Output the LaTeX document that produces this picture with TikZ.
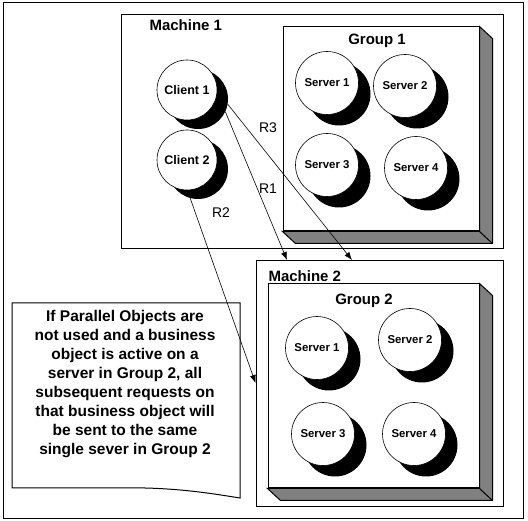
\documentclass[tikz,border=0pt]{standalone}
\usepackage{fontspec}
\setmainfont{Liberation Sans}
\usetikzlibrary{calc, arrows.meta}

\begin{document}
\begin{tikzpicture}[x=1pt, y=-1pt,
	box/.style={draw, line width=1pt, inner sep=0pt},
	front/.style={draw, fill=white, line width=1pt, inner sep=0pt},
	slab/.style={draw, fill=black!50, line width=1pt},
	blob/.style={circle, fill=black, inner sep=0pt, minimum size=#1},
	disc/.style={circle, draw, fill=white, line width=0.6pt, inner sep=0pt, minimum size=#1},
	srv/.style={disc=63pt, font=\bfseries\fontsize{11.4}{13}\selectfont},
	cli/.style={disc=60pt, font=\bfseries\fontsize{12.5}{14}\selectfont},
	big/.style={font=\bfseries\fontsize{15}{18}\selectfont},
	req/.style={-{Latex[length=8pt, width=6pt]}, line width=0.6pt},
	reqlbl/.style={font=\fontsize{14}{16}\selectfont}]
	\def \dx {12}
	\def \dy {11}

	\useasboundingbox (0,0) rectangle (528,521);
	\node[box, minimum width=520pt, minimum height=515pt] (outer) at (263,260.5) {};

	% machine 1
	\node[box, minimum width=382pt, minimum height=234pt] (machine1) at (312,132) {};
	\node[big, anchor=west] (machine1lbl) at (146,25) {Machine 1};

	\node[front, minimum width=196pt, minimum height=204pt] (group1) at (381,129) {};
	\draw[slab] (group1.north east) -- ++(13,12) -- ($(group1.south east)+(13,12)$)
		-- ($(group1.south west)+(13,12)$) -- (group1.south west) -- (group1.south east) -- cycle;
	\draw[line width=1pt] (group1.south east) -- ++(13,12);
	\node[big] (group1lbl) at (377,41) {Group 1};

	\node[blob=60pt] (cl1sh) at (198,99) {};
	\node[cli] (cl1) at (187,90) {Client 1};
	\node[blob=60pt] (cl2sh) at (198,169) {};
	\node[cli] (cl2) at (187,160) {Client 2};

	\node[blob=63pt] (g1s1sh) at (327+\dx,83+\dy) {};
	\node[srv] (g1s1) at (327,83) {Server 1};
	\node[blob=63pt] (g1s2sh) at (405+\dx,86+\dy) {};
	\node[srv] (g1s2) at (405,86) {Server 2};
	\node[blob=63pt] (g1s3sh) at (327+\dx,165+\dy) {};
	\node[srv] (g1s3) at (327,165) {Server 3};
	\node[blob=63pt] (g1s4sh) at (416+\dx,168+\dy) {};
	\node[srv] (g1s4) at (416,168) {Server 4};

	% machine 2
	\node[box, minimum width=247pt, minimum height=245pt] (machine2) at (379.5,383.5) {};
	\node[big, anchor=west] (machine2lbl) at (265,276) {Machine 2};

	\node[front, minimum width=211pt, minimum height=204pt] (group2) at (373.5,386) {};
	\draw[slab] (group2.north east) -- ++(13,12) -- ($(group2.south east)+(13,12)$)
		-- ($(group2.south west)+(13,12)$) -- (group2.south west) -- (group2.south east) -- cycle;
	\draw[line width=1pt] (group2.south east) -- ++(13,12);
	\node[big] (group2lbl) at (364,301) {Group 2};

	\node[blob=63pt] (g2s1sh) at (317+\dx,348+\dy) {};
	\node[srv] (g2s1) at (317,348) {Server 1};
	\node[blob=63pt] (g2s2sh) at (410+\dx,340+\dy) {};
	\node[srv] (g2s2) at (410,340) {Server 2};
	\node[blob=63pt] (g2s3sh) at (323+\dx,434+\dy) {};
	\node[srv] (g2s3) at (323,434) {Server 3};
	\node[blob=63pt] (g2s4sh) at (414+\dx,434+\dy) {};
	\node[srv] (g2s4) at (414,434) {Server 4};

	% note
	\draw[line width=1pt] (12,303) -- (240,303) -- (240,498)
		.. controls (215,494) and (185,489) .. (145,488) -- (12,488) -- cycle;
	\node[align=center, font=\bfseries\fontsize{15.5}{19}\selectfont] (note) at (125,384)
		{If Parallel Objects are\\ not used and a business\\ object is active on a\\
		 server in Group 2, all\\ subsequent requests on\\ that business object will\\
		 be sent to the same\\ single sever in Group 2};

	% requests
	\coordinate (r1end) at (287,260);
	\coordinate (r3end) at (352,260);
	\coordinate (r2end) at (255.5,383);
	\draw[req] (cl1sh.-25) -- (r1end);
	\draw[req] (cl1sh.-10) -- (r3end);
	\draw[req] (cl2sh.-105) -- (r2end);
	\node[reqlbl] (r3lbl) at (268,128) {R3};
	\node[reqlbl] (r1lbl) at (268,189) {R1};
	\node[reqlbl] (r2lbl) at (221,213) {R2};
\end{tikzpicture}
\end{document}
